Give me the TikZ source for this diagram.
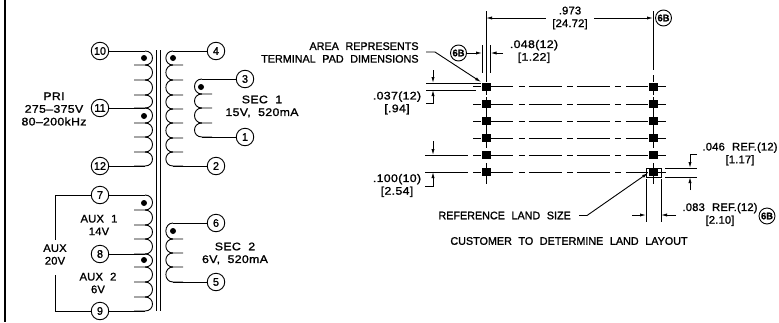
\documentclass[tikz,border=0pt]{standalone}
\usepackage{fontspec}
\setmainfont{Liberation Sans}[WordSpace=2.2,FakeStretch=0.98,FakeBold=1.3]
\newfontfamily\numfont{Liberation Sans}[WordSpace=2,FakeStretch=1.12,LetterSpace=3,FakeBold=1.3]
\newfontfamily\midfont{Liberation Sans}[WordSpace=2.2,FakeStretch=1.02,LetterSpace=1.5,FakeBold=1.3]
\usetikzlibrary{arrows.meta}

% one winding: x of the bumps, bulge, x of the tap ends, list of bumps
\newcommand{\winding}[4]{
    \foreach \a/\b in {#4}
        \draw (#1,\a) .. controls (#1+#2,\a) and (#1+#2,\b) .. (#1,\b) -- (#3,\b);
}

\begin{document}
\begin{tikzpicture}[x=1pt,y=-1pt,line width=0.9pt,font=\fontsize{11}{12.7}\selectfont
                    ]
                % define styles
\tikzset{term/.style={circle,
                       draw=black,
                       inner sep=0,
                       minimum size=17.5pt,
                       },
         phase/.style={circle,
                       fill=black,
                       inner sep=0,
                       minimum size=6pt,
                       },
         pad/.style={rectangle,
                       fill=black,
                       inner sep=0,
                       minimum width=9pt,
                       minimum height=8pt,
                       },
         note/.style={circle,
                       draw=black,
                       inner sep=0,
                       minimum size=16pt,
                       font=\fontsize{9.5}{10}\selectfont\bfseries,
                       },
         label/.style={align=center,
                       inner sep=0,
                       },
         numlabel/.style={label,
                       font=\fontsize{11}{12.7}\selectfont\numfont,
                       },
         midlabel/.style={label,
                       font=\fontsize{11}{12.7}\selectfont\midfont,
                       },
         dim/.style={-{Latex[length=6pt,width=3.2pt]}},
}

\useasboundingbox (0,0) rectangle (779,322);

% frame edge
\draw[line width=2pt] (5,0) -- (5,322);

% core
\draw (156,50) -- (156,311);
\draw (160.5,50) -- (160.5,311);

% terminals with their wires
\foreach \name/\xt/\y/\xw in {10/100/51/145, 11/100/108/145, 12/100/166/145,
                              7/100/195/145, 8/100/254/145, 9/100/311/145,
                              4/216/51/173, 2/216/166/173, 6/216/223/173, 5/216/282/173,
                              3/245/79/202, 1/245/137/202}{
    \node[term] (t\name) at (\xt,\y) {\name};
    \coordinate (w\name) at (\xw,\y);
    \draw (t\name) -- (w\name);
}

% windings
\winding{145}{10}{134}{51/65, 65/80, 80/95, 95/108, 108/123, 123/137, 137/152, 152/166}
\winding{145}{10}{134}{195/210, 210/225, 225/239, 239/254, 254/267, 267/282, 282/297, 297/311}
\winding{173}{-9.5}{183}{51/65, 65/80, 80/95, 95/109, 109/123, 123/138, 138/152, 152/166}
\winding{202}{-10}{212}{79/94, 94/108, 108/123, 123/137}
\winding{173}{-9.5}{183}{223/239, 239/253, 253/267, 267/282}

% phase dots
\foreach \name/\x/\y in {a/144/58, b/144/116, c/144/203, d/144/260, e/173/58, f/201/87, g/173/231}
    \node[phase] (dot\name) at (\x,\y) {};

% winding labels
\node[numlabel] (pri) at (54,109) {PRI\\275–375V\\80–200kHz};
\node[numlabel] (sec1) at (262,106.5) {SEC 1\\15V, 520mA};
\node[numlabel] (sec2) at (235,253.5) {SEC 2\\6V, 520mA};
\node[midlabel] (aux1) at (99,225) {AUX 1\\14V};
\node[midlabel] (aux2) at (98,283) {AUX 2\\6V};
\node[midlabel] (aux) at (55,254.5) {AUX\\20V};

% aux bracket
\coordinate (auxtop) at (55,195);
\coordinate (auxbot) at (55,311);
\draw (t7) -- (auxtop) -- (aux.north |- 0,240);
\draw (t9) -- (auxbot) -- (aux.south |- 0,275);

% land pattern
\foreach \row/\y in {1/86.5, 2/104, 3/121, 4/138, 5/155, 6/172}{
    \node[pad] (left\row) at (486,\y) {};
    \node[pad] (right\row) at (653,\y) {};
    \coordinate (stub\row) at (473,\y);
    \coordinate (tail\row) at (666,\y);
    \draw (stub\row) -- (left\row);
    \draw (right\row) -- (tail\row);
    \draw[dash pattern=on 22pt off 6pt on 6pt off 4pt on 33pt off 5pt on 6pt off 4pt on 33pt off 5pt on 6pt off 5pt on 30pt]
        (left\row.east) -- (right\row.west);
}
\foreach \col in {left,right}{
    \draw (\col2) -- (\col3) -- (\col4);
    \draw (\col1.south) -- +(0,4);
    \draw (\col2.north) -- +(0,-3);
    \draw (\col4.south) -- +(0,6);
    \draw (\col6.north) -- +(0,-5);
    \draw (\col6.south) -- +(0,8);
}

% reference land outline
\node[draw,inner sep=0,minimum width=15pt,minimum height=9pt] (land) at (653.5,172.5) {};

% top dimension
\node[midlabel] (dtop) at (570,18) {.973\\{[24.72]}};
\coordinate (exl) at (486,11);
\coordinate (exr) at (653,11);
\draw (exl) -- (left1);
\draw (exr) -- (653,70);
\draw (653,75) -- (right1);
\draw[dim] ([xshift=-6pt]dtop.west) -- (dtop.west -| exl);
\draw[dim] ([xshift=6pt]dtop.east) -- (dtop.east -| exr);
\node[note] (n6ba) at (663.5,18) {6B};

% pad width
\coordinate (wl) at (482,45);
\coordinate (wr) at (490.5,45);
\draw (wl) -- (482,73);
\draw (wr) -- (490.5,73);
\node[note] (n6bb) at (458.5,53) {6B};
\coordinate (wrtail) at (503,53);
\draw[dim] (n6bb) -- (n6bb -| wl);
\draw[dim] (wrtail) -- (wrtail -| wr);
\node[numlabel] (dwidth) at (534,51.5) {.048(12)\\{[1.22]}};

% area leader
\node[label,align=right,anchor=east] (area) at (419,52.5) {AREA REPRESENTS\\TERMINAL PAD DIMENSIONS};
\coordinate (areak) at (435,52);
\draw[dim] (426,52) -- (areak) -- (left1.north west);

% pad height
\coordinate (ha) at (426,83);
\coordinate (hb) at (426,90);
\draw (ha) -- (left1.west |- ha);
\draw (hb) -- (476,90);
\draw[dim] (433,70) -- (433,83);
\draw[dim] (426,103) -- (433,103) -- (433,90);
\node[numlabel] (dheight) at (397,103) {.037(12)\\{[.94]}};

% pitch
\draw (425,155) -- (468,155);
\draw (425,172) -- (468,172);
\draw[dim] (433,141) -- (433,155);
\draw[dim] (425,186) -- (433,186) -- (433,172);
\node[numlabel] (dpitch) at (397,185.5) {.100(10)\\{[2.54]}};

% land height
\draw (665,168) -- (697,168);
\draw (665,177) -- (697,177);
\draw[dim] (697,154) -- (690,154) -- (690,168);
\draw[dim] (690,190) -- (690,177);
\node[midlabel] (dlandh) at (740,154) {.046 REF.(12)\\{[1.17]}};

% land width
\draw (646,179) -- (646,222);
\draw (661,179) -- (661,222);
\draw[dim] (632,215) -- (646,215);
\draw[dim] (676,215) -- (661,215);
\node[midlabel] (dlandw) at (720,214.5) {.083 REF.(12)\\{[2.10]}};
\node[note] (n6bc) at (767,216) {6B};

% land leader
\node[label,anchor=west] (ref) at (438,215.5) {REFERENCE LAND SIZE};
\coordinate (refk) at (587,215.5);
\draw[dim] (579,215.5) -- (refk) -- (648,173);

\node[label] (cust) at (569,241) {CUSTOMER TO DETERMINE LAND LAYOUT};
\end{tikzpicture}
\end{document}
